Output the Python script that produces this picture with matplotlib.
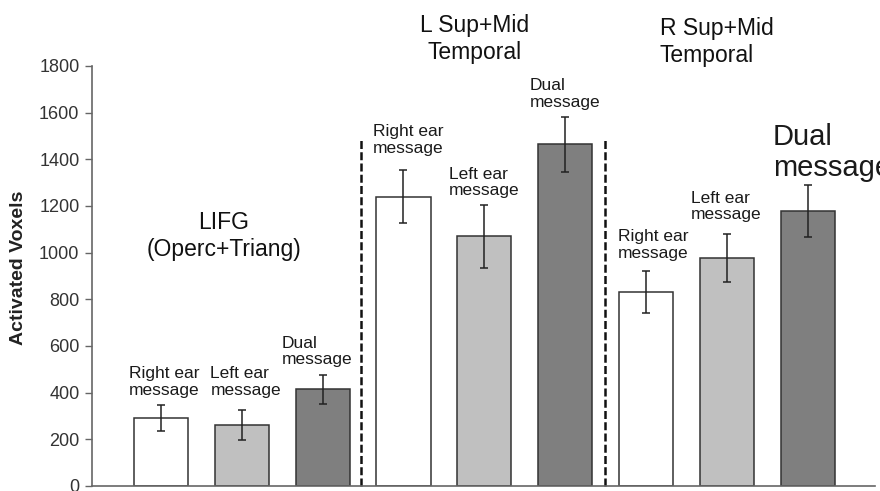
import numpy as np
import matplotlib
matplotlib.use('Agg')
import matplotlib.pyplot as plt

plt.rcParams['font.family'] = ['Liberation Sans', 'DejaVu Sans']

# данные
regions = ['LIFG\n(Operc+Triang)', 'L Sup+Mid\nTemporal', 'R Sup+Mid\nTemporal']
conditions = ['Right ear\nmessage', 'Left ear\nmessage', 'Dual\nmessage']
lifg_vals = [290, 260, 414]
lifg_err = [55, 65, 63]
ltemp_vals = [1240, 1070, 1464]
ltemp_err = [115, 135, 119]
rtemp_vals = [830, 978, 1180]
rtemp_err = [90, 102, 112]
y_ticks = [0, 200, 400, 600, 800, 1000, 1200, 1400, 1600, 1800]

values = lifg_vals + ltemp_vals + rtemp_vals
errors = lifg_err + ltemp_err + rtemp_err
colors = ['white', '#c0c0c0', '#7f7f7f'] * 3
x = np.arange(len(values))

fig = plt.figure(figsize=(8.8, 4.91), dpi=100)
ax = fig.add_axes([0.1045, 0.0102, 0.8898, 0.8554])

ax.bar(x, values, width=0.67, color=colors, edgecolor='#333333', linewidth=1.1, zorder=2)
ax.errorbar(x, values, yerr=errors, fmt='none', ecolor='#222222', elinewidth=1.1,
            capsize=2.6, capthick=1.1, zorder=3)

ax.set_xlim(-0.852, 8.83)
ax.set_ylim(0, 1800)
ax.set_yticks(y_ticks)
ax.set_xticks([])
ax.tick_params(axis='y', labelsize=13, labelcolor='#333333', color='#666666',
               length=5, width=1.0, pad=4)
for s in ['top', 'right']:
    ax.spines[s].set_visible(False)
for s in ['left', 'bottom']:
    ax.spines[s].set_color('#666666')
    ax.spines[s].set_linewidth(1.2)
ax.set_ylabel('Activated Voxels', fontsize=14, fontweight='bold', color='#222222')
ax.yaxis.set_label_coords(-0.083, 0.52)

# пунктирные разделители групп
for xd in [2.47, 5.49]:
    ax.plot([xd, xd], [0, 1483], color='#111111', linewidth=1.8,
            linestyle=(0, (3.2, 1.3)), zorder=1, clip_on=False)

# подписи столбцов
label_x = [0.04, 1.05, 1.93, 3.06, 4.0, 5.0, 6.09, 6.99]
label_y = [446, 446, 578, 1483, 1299, 1680, 1033, 1197]
for i, (lx, ly) in enumerate(zip(label_x, label_y)):
    ax.text(lx, ly, conditions[i % 3], ha='center', va='center', multialignment='left',
            fontsize=12.5, color='#1a1a1a', linespacing=1.1, clip_on=False)
# крупная подпись справа, обрезанная краем рисунка
ax.text(7.57, 1429, conditions[2], ha='left', va='center', fontsize=21,
        color='#1a1a1a', linespacing=1.15, clip_on=False)

# названия областей
title_pos = [(0.78, 1072, 'center'), (3.88, 1916, 'center'), (6.17, 1903, 'left')]
for name, (tx, ty, ha) in zip(regions, title_pos):
    ax.text(tx, ty, name, ha=ha, va='center', multialignment='left' if ha == 'left' else 'center',
            fontsize=16.5, color='#111111', linespacing=1.25, clip_on=False)

fig.savefig('out.png', dpi=100)
